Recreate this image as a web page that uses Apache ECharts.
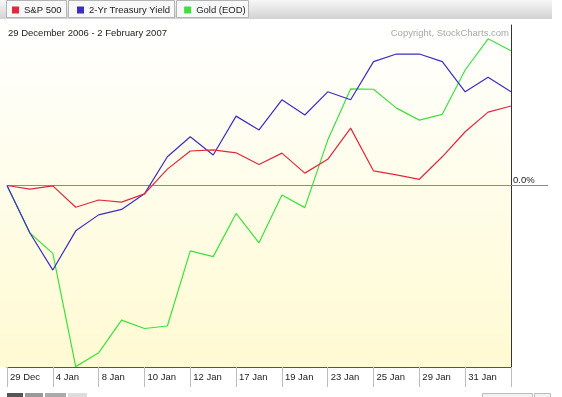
<!DOCTYPE html>
<html>
<head>
<meta charset="utf-8">
<script src="https://cdn.jsdelivr.net/npm/echarts@6/dist/echarts.min.js"></script>
<style>
html,body{margin:0;padding:0;background:#fff;}
#c{width:562px;height:397px;}
</style>
</head>
<body>
<div id="c"></div>
<script>
const categories = ['29 Dec','3 Jan','4 Jan','5 Jan','8 Jan','9 Jan','10 Jan','11 Jan','12 Jan','16 Jan','17 Jan','18 Jan','19 Jan','22 Jan','23 Jan','24 Jan','25 Jan','26 Jan','29 Jan','30 Jan','31 Jan','1 Feb','2 Feb'];
const sp500 = [0,-0.10,-0.01,-0.60,-0.40,-0.46,-0.23,0.45,0.95,0.98,0.90,0.58,0.89,0.34,0.72,1.58,0.40,0.29,0.17,0.79,1.48,2.02,2.19];
const treasury2y = [0,-1.31,-2.33,-1.25,-0.81,-0.66,-0.23,0.79,1.34,0.84,1.91,1.53,2.36,1.94,2.58,2.36,3.41,3.62,3.62,3.41,2.58,2.98,2.58];
const gold = [0,-1.31,-1.87,-4.99,-4.61,-3.71,-3.94,-3.87,-1.80,-1.96,-0.77,-1.58,-0.26,-0.61,1.25,2.66,2.65,2.13,1.80,1.96,3.18,4.04,3.71];
const seriesNames = ['S&P 500','2-Yr Treasury Yield','Gold (EOD)'];
const seriesColors = ['#e2283c','#3a2fbf','#3ee03e'];
const titleText = '29 December 2006 - 2 February 2007';
const copyrightText = 'Copyright, StockCharts.com';

const FONT = 'Liberation Sans, Arial, sans-serif';
const chart = echarts.init(document.getElementById('c'), null, {renderer:'canvas'});

const option = {
  animation: false,
  backgroundColor: '#ffffff',
  textStyle: {fontFamily: FONT},
  title: [
    {text: titleText, left: 8, top: 28, padding: 0,
     textStyle: {fontSize: 9.5, fontWeight: 'normal', color: '#222', fontFamily: FONT}},
    {text: copyrightText, right: 53, top: 28, padding: 0,
     textStyle: {fontSize: 9.5, fontWeight: 'normal', color: '#a8a8a8', fontFamily: FONT}}
  ],
  legend: {
    left: 12, top: 4, padding: 0,
    icon: 'rect', itemWidth: 7, itemHeight: 7, itemGap: 14,
    selectedMode: false,
    textStyle: {fontSize: 9.5, color: '#222', fontFamily: FONT, lineHeight: 12},
    data: [
      {name: seriesNames[0], textStyle: {width: 39}},
      {name: seriesNames[1], textStyle: {width: 81}},
      {name: seriesNames[2]}
    ]
  },
  grid: {left: 7, right: 51, top: 25, bottom: 30, containLabel: false},
  xAxis: {
    type: 'category', data: categories, boundaryGap: false,
    axisLine: {show: true, onZero: false, lineStyle: {color: '#555', width: 1}},
    axisTick: {show: true, length: 20, interval: function(i){return i % 2 === 0;},
               lineStyle: {color: '#bdbdbd'}},
    axisLabel: {interval: function(i){return i % 2 === 0 && i < categories.length - 1;},
                align: 'left', margin: 5, padding: [0,0,0,3],
                fontSize: 9.5, color: '#222', fontFamily: FONT},
    splitLine: {show: false}
  },
  yAxis: {
    type: 'value', position: 'right', min: -5, max: 4.42, interval: 1,
    axisLine: {show: true, lineStyle: {color: '#333'}},
    axisTick: {show: false},
    splitLine: {show: false},
    axisLabel: {margin: 2, verticalAlign: 'bottom', fontSize: 9.5, color: '#222', fontFamily: FONT,
                formatter: function(v){return v === 0 ? '0.0%' : '';}}
  },
  series: [
    {name: seriesNames[0], type: 'line', data: sp500, symbol: 'none', z: 4,
     lineStyle: {color: seriesColors[0], width: 1.2}, itemStyle: {color: seriesColors[0]}},
    {name: seriesNames[1], type: 'line', data: treasury2y, symbol: 'none', z: 3,
     lineStyle: {color: seriesColors[1], width: 1.2}, itemStyle: {color: seriesColors[1]}},
    {name: seriesNames[2], type: 'line', data: gold, symbol: 'none', z: 2,
     lineStyle: {color: seriesColors[2], width: 1.2}, itemStyle: {color: seriesColors[2]}}
  ],
  graphic: [
    {id: 'plotbg', type: 'rect', z: -20, silent: true,
     shape: {x: 0, y: 22, width: 511, height: 345},
     style: {fill: new echarts.graphic.LinearGradient(0,0,0,1,[
       {offset: 0, color: '#ffffff'}, {offset: 1, color: '#fffad2'}])}},
    {id: 'legbar', type: 'rect', z: -15, silent: true,
     shape: {x: 0, y: 0, width: 552, height: 19},
     style: {fill: new echarts.graphic.LinearGradient(0,0,0,1,[
       {offset: 0, color: '#f7f7f7'}, {offset: 1, color: '#d2d2d2'}])}},
    {id: 'btn1', type: 'rect', z: -14, silent: true, shape: {x: 6.5, y: 0.5, width: 60, height: 17},
     style: {fill: '#f8f8f8', stroke: '#b4b4b4', lineWidth: 1}},
    {id: 'btn2', type: 'rect', z: -14, silent: true, shape: {x: 68.5, y: 0.5, width: 106, height: 17},
     style: {fill: '#f8f8f8', stroke: '#b4b4b4', lineWidth: 1}},
    {id: 'btn3', type: 'rect', z: -14, silent: true, shape: {x: 176.5, y: 0.5, width: 72, height: 17},
     style: {fill: '#f8f8f8', stroke: '#b4b4b4', lineWidth: 1}},
    {id: 'tb1', type: 'rect', z: -14, silent: true, shape: {x: 7, y: 393, width: 16, height: 6}, style: {fill: '#555'}},
    {id: 'tb2', type: 'rect', z: -14, silent: true, shape: {x: 25, y: 393, width: 18, height: 6}, style: {fill: '#999'}},
    {id: 'tb3', type: 'rect', z: -14, silent: true, shape: {x: 45, y: 393, width: 21, height: 6}, style: {fill: '#aaa'}},
    {id: 'tb4', type: 'rect', z: -14, silent: true, shape: {x: 68, y: 393, width: 19, height: 6}, style: {fill: '#ddd'}},
    {id: 'tb5', type: 'rect', z: -14, silent: true, shape: {x: 482.5, y: 393.5, width: 50, height: 6}, style: {fill: '#f2f2f2', stroke: '#bbb'}},
    {id: 'tb6', type: 'rect', z: -14, silent: true, shape: {x: 534.5, y: 393.5, width: 16, height: 6}, style: {fill: '#f2f2f2', stroke: '#bbb'}}
  ]
};
chart.setOption(option);

const y0 = Math.round(chart.convertToPixel({yAxisIndex: 0}, 0)) + 0.5;
chart.setOption({graphic: [
  {id: 'zero', type: 'line', z: 1, silent: true,
   shape: {x1: 7, y1: y0, x2: 548, y2: y0},
   style: {stroke: '#8a8a8a', lineWidth: 1}}
]});
</script>
</body>
</html>
